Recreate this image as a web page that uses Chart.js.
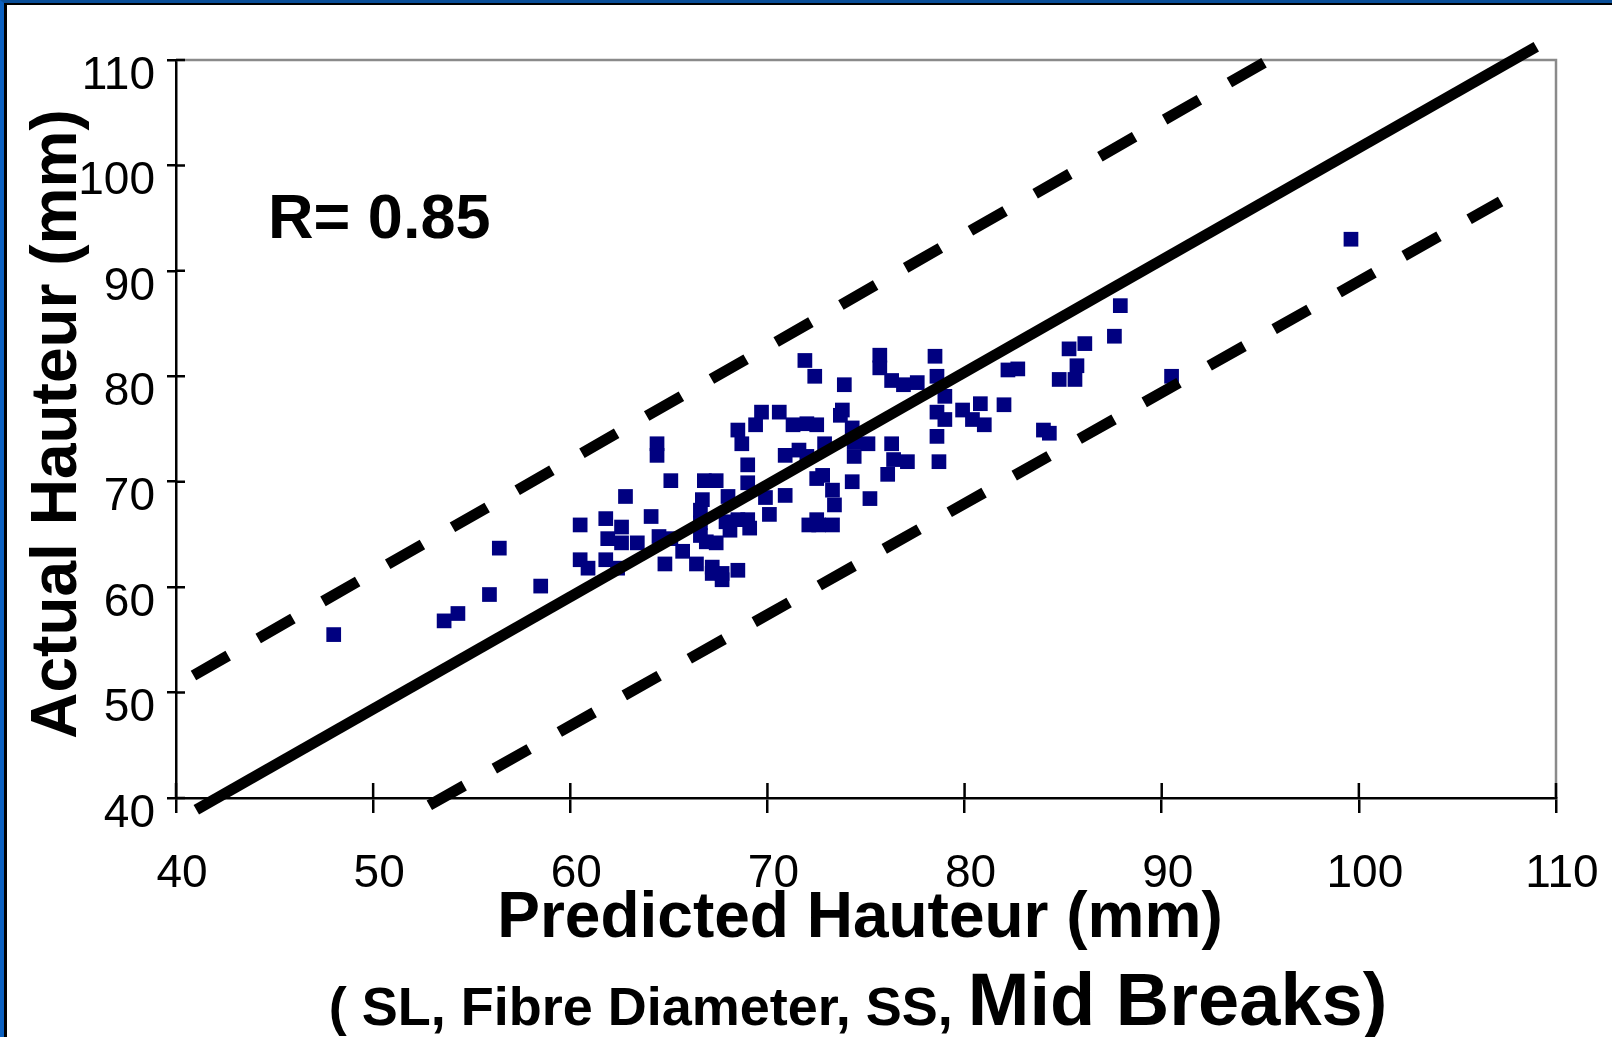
<!DOCTYPE html>
<html>
<head>
<meta charset="utf-8">
<script src="https://cdn.jsdelivr.net/npm/chart.js@4.4.1/dist/chart.umd.min.js"></script>
<style>
html,body{margin:0;padding:0;background:#fff;overflow:hidden}
#wrap{position:relative;width:1612px;height:1037px;background:#fff}
#c{position:absolute;left:0;top:0}
#frameBlue{position:absolute;left:0;top:0;width:1612px;height:1037px;box-sizing:border-box;border-top:3px solid #0a4e98;border-left:4px solid #0b60c0;pointer-events:none}
#frameBlack{position:absolute;left:4px;top:3px;right:0;bottom:0;border-top:2px solid #000;border-left:3px solid #000;pointer-events:none}
</style>
</head>
<body>
<div id="wrap">
<canvas id="c" width="1612" height="1037"></canvas>
<div id="frameBlue"></div><div id="frameBlack"></div>
</div>
<script>
// ---- data ----
const predicted = [48.0,53.6,54.3,55.9,58.5,56.4,60.5,60.5,60.9,61.8,61.8,62.6,61.9,62.6,63.4,62.4,62.8,64.1,64.4,64.4,
  65.1,64.5,65.1,64.8,65.7,66.4,67.2,67.7,67.7,68.5,67.2,66.8,67.4,66.7,66.6,66.6,66.6,66.9,67.4,68.0,
  67.9,68.1,69.0,69.1,68.5,69.0,69.0,68.5,68.7,69.4,69.9,70.1,70.9,70.9,71.6,71.3,72.0,72.5,72.5,72.1,
  72.5,69.7,70.6,72.0,72.9,73.7,73.8,74.3,74.4,75.1,74.4,76.3,76.4,77.1,76.1,74.3,75.2,72.8,73.3,73.4,
  72.6,73.3,71.9,72.4,73.9,75.7,75.7,78.5,76.3,76.9,77.6,78.6,79.0,78.6,79.0,78.6,78.7,79.9,80.8,80.4,
  81.0,82.0,82.2,82.7,84.0,84.3,84.8,85.6,85.7,85.3,86.1,87.6,87.9,90.5,99.6];
const actual = [55.5,56.8,57.5,59.3,60.1,63.7,65.9,62.6,61.8,66.5,62.6,65.7,64.6,64.2,64.2,61.8,68.6,66.7,73.6,72.5,
  70.1,64.8,64.6,62.2,63.4,62.2,61.9,61.3,60.7,61.6,61.3,70.1,70.1,68.3,67.3,66.1,64.9,64.3,64.2,68.6,
  66.2,65.4,66.4,65.6,66.4,71.6,69.9,74.9,73.6,75.4,68.5,66.9,68.7,72.5,73.0,75.4,75.5,75.4,70.3,65.9,
  66.4,76.6,76.6,72.4,73.6,76.3,76.8,75.1,73.8,73.6,72.4,73.6,72.1,71.9,70.7,70.0,68.4,70.6,69.2,67.8,
  65.9,65.9,81.5,80.0,79.2,82.0,80.8,81.9,79.6,79.2,79.4,80.0,78.1,76.6,75.9,74.3,71.9,76.8,77.4,75.9,
  75.4,77.3,80.6,80.7,74.9,74.6,79.7,79.7,81.0,82.6,83.1,83.8,86.7,80.0,93.0];

// reference lines drawn on the chart (end points in data units)
const solidLineX = [41.03, 109.0];
const solidLineY = [38.89, 111.26];
const upperLineX = [39.42, 95.19];
const upperLineY = [50.05, 109.74];
const lowerLineX = [52.85, 107.19];
const lowerLineY = [39.31, 96.58];

const xTickValues = [40, 50, 60, 70, 80, 90, 100, 110];
const yTickValues = [40, 50, 60, 70, 80, 90, 100, 110];

const rLabel = 'R= 0.85';
const rLabelPos = {x: 44.67, y: 93.09};
const xTitle = 'Predicted Hauteur (mm)';
const yTitle = 'Actual Hauteur (mm)';
const subTitleSmall = '( SL, Fibre Diameter, SS, ';
const subTitleLarge = 'Mid Breaks)';

// ---- build ----
const FAMILY = '"Liberation Sans", Arial, Helvetica, sans-serif';
const toPts = (xs, ys) => xs.map((v, i) => ({x: v, y: ys[i]}));

const lineStyle = {
  type: 'line', showLine: true, borderColor: '#000', backgroundColor: '#000',
  borderWidth: 11, pointRadius: 0, pointHoverRadius: 0, fill: false, clip: false,
  borderCapStyle: 'butt', tension: 0
};

const decorPlugin = {
  id: 'decor',
  beforeDatasetsDraw(chart) {
    const {ctx, chartArea: a, scales: {x, y}} = chart;
    ctx.save();
    ctx.strokeStyle = '#8a8a8a';
    ctx.lineWidth = 2.5;
    ctx.beginPath();
    ctx.moveTo(a.left, a.top);
    ctx.lineTo(a.right, a.top);
    ctx.lineTo(a.right, a.bottom);
    ctx.stroke();
    ctx.strokeStyle = '#000';
    ctx.lineWidth = 2.5;
    ctx.beginPath();
    xTickValues.forEach(v => { const p = x.getPixelForValue(v); ctx.moveTo(p, a.bottom); ctx.lineTo(p, a.bottom - 15); });
    yTickValues.forEach(v => { const p = y.getPixelForValue(v); ctx.moveTo(a.left, p); ctx.lineTo(a.left + 9, p); });
    ctx.stroke();
    ctx.restore();
  },
  afterDraw(chart) {
    const {ctx, scales: {x, y}} = chart;
    ctx.save();
    ctx.fillStyle = '#000';
    ctx.textBaseline = 'alphabetic';
    // R annotation
    ctx.font = 'bold 63px ' + FAMILY;
    ctx.textAlign = 'left';
    ctx.fillText(rLabel, x.getPixelForValue(rLabelPos.x), y.getPixelForValue(rLabelPos.y));
    // x title
    ctx.font = 'bold 64px ' + FAMILY;
    ctx.textAlign = 'center';
    ctx.fillText(xTitle, 860, 937);
    // subtitle with two sizes
    ctx.textAlign = 'left';
    ctx.font = 'bold 54px ' + FAMILY;
    const w1 = ctx.measureText(subTitleSmall).width;
    ctx.font = 'bold 74px ' + FAMILY;
    const w2 = ctx.measureText(subTitleLarge).width;
    const sx = 858 - (w1 + w2) / 2;
    ctx.font = 'bold 54px ' + FAMILY;
    ctx.fillText(subTitleSmall, sx, 1025);
    ctx.font = 'bold 74px ' + FAMILY;
    ctx.fillText(subTitleLarge, sx + w1, 1025);
    // y title
    ctx.translate(76, 424);
    ctx.rotate(-Math.PI / 2);
    ctx.font = 'bold 64px ' + FAMILY;
    ctx.textAlign = 'center';
    ctx.fillText(yTitle, 0, 0);
    ctx.restore();
  }
};

new Chart(document.getElementById('c'), {
  type: 'scatter',
  data: {
    datasets: [
      Object.assign({}, lineStyle, {label: 'y = x', data: toPts(solidLineX, solidLineY)}),
      Object.assign({}, lineStyle, {label: 'upper', data: toPts(upperLineX, upperLineY), borderDash: [40, 34.6], borderDashOffset: 41.3}),
      Object.assign({}, lineStyle, {label: 'lower', data: toPts(lowerLineX, lowerLineY), borderDash: [40, 34.6], borderDashOffset: 0}),
      {
        label: 'Hauteur', data: toPts(predicted, actual),
        pointStyle: 'rect', pointRadius: 10.4, pointHoverRadius: 10.4,
        pointBackgroundColor: '#000080', pointBorderWidth: 0, borderColor: '#000080', showLine: false
      }
    ]
  },
  options: {
    responsive: false, animation: false, devicePixelRatio: 1,
    layout: {padding: {top: 60, right: 56, left: 8, bottom: 0}},
    plugins: {legend: {display: false}, tooltip: {enabled: false}, title: {display: false}},
    scales: {
      x: {
        type: 'linear', min: 40, max: 110,
        afterBuildTicks: s => { s.ticks = xTickValues.map(v => ({value: v})); },
        ticks: {font: {family: FAMILY, size: 46}, color: '#000', padding: 34, labelOffset: 6, maxRotation: 0, autoSkip: false},
        grid: {drawOnChartArea: false, drawTicks: true, tickLength: 15, color: '#000', lineWidth: 2.5},
        border: {display: true, color: '#000', width: 2.5},
        afterFit: s => { s.height = 239; s.paddingLeft = 0; s.paddingRight = 0; }
      },
      y: {
        type: 'linear', min: 40, max: 110,
        afterBuildTicks: s => { s.ticks = yTickValues.map(v => ({value: v})); },
        ticks: {font: {family: FAMILY, size: 46}, color: '#000', padding: 12, labelOffset: 16, autoSkip: false},
        grid: {drawOnChartArea: false, drawTicks: true, tickLength: 9, color: '#000', lineWidth: 2.5},
        border: {display: true, color: '#000', width: 2.5},
        afterFit: s => { s.width = 168; s.paddingTop = 0; s.paddingBottom = 0; }
      }
    }
  },
  plugins: [decorPlugin]
});
</script>
</body>
</html>
